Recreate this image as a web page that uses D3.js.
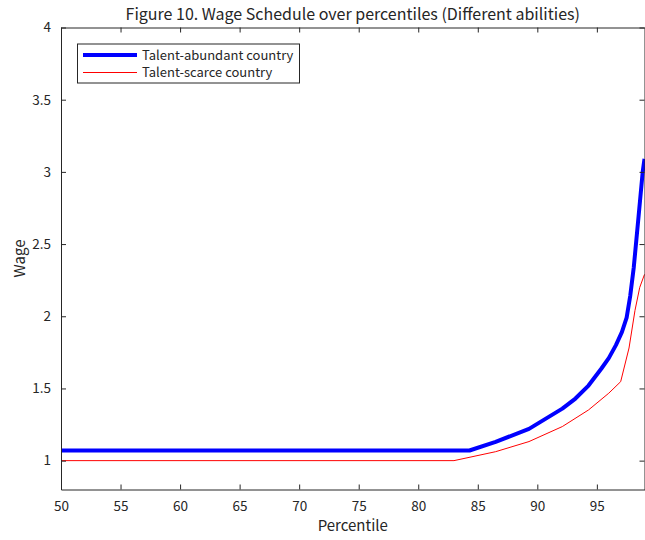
<!DOCTYPE html>
<html><head><meta charset="utf-8">
<script src="https://cdn.jsdelivr.net/npm/d3@7"></script>
<style>body{margin:0;background:#fff}svg{display:block}text{font-family:"Noto Sans CJK JP","Noto Sans",sans-serif;fill:#262626}</style>
</head><body>
<script>
const seriesNames = ["Talent-abundant country", "Talent-scarce country"];
const abundantX = [50, 84.3, 86.5, 89.3, 92.1, 93.2, 94.3, 95.4, 96.0, 96.6, 97.1, 97.5, 97.8, 98.1, 98.5, 98.85, 99];
const abundantY = [1.07, 1.07, 1.13, 1.22, 1.36, 1.43, 1.52, 1.64, 1.71, 1.80, 1.89, 1.99, 2.14, 2.34, 2.69, 3.0, 3.09];
const scarceX = [50, 83.0, 86.5, 89.3, 92.1, 94.3, 96.0, 97.0, 97.7, 98.2, 98.6, 99];
const scarceY = [1.0, 1.0, 1.062, 1.132, 1.236, 1.351, 1.467, 1.547, 1.78, 2.04, 2.20, 2.29];
const xTicks = [50, 55, 60, 65, 70, 75, 80, 85, 90, 95];
const yTicks = [1, 1.5, 2, 2.5, 3, 3.5, 4];
const colors = ["#0000ff", "#ff0000"];

const W = 645, H = 540;
const svg = d3.select("body").append("svg").attr("width", W).attr("height", H);
const mLeft = 61, mRight = 644.5, mTop = 27.5, mBottom = 489.5;
const x = d3.scaleLinear().domain([50, 99]).range([mLeft, mRight]);
const y = d3.scaleLinear().domain([0.8, 4]).range([mBottom, mTop]);
const axisColor = "#262626";

// lines
const line = d3.line().x(d => x(d[0])).y(d => y(d[1]));
svg.append("clipPath").attr("id", "c").append("rect")
  .attr("x", mLeft).attr("y", mTop).attr("width", mRight - mLeft + 2).attr("height", mBottom - mTop);
const g = svg.append("g").attr("clip-path", "url(#c)");
g.append("path").datum(scarceX.map((v, i) => [v, scarceY[i]]))
  .attr("d", line).attr("fill", "none").attr("stroke", colors[1]).attr("stroke-width", 1);
g.append("path").datum(abundantX.map((v, i) => [v, abundantY[i]]))
  .attr("d", line).attr("fill", "none").attr("stroke", colors[0]).attr("stroke-width", 4)
  .attr("stroke-linejoin", "round");

// axes
function styleAxis(sel) {
  sel.selectAll("path.domain").attr("stroke", axisColor);
  sel.selectAll(".tick line").attr("stroke", axisColor);
  sel.selectAll(".tick text").attr("fill", axisColor).style("font-size", "13.5px")
    .style("font-family", '"Noto Sans CJK JP","Noto Sans",sans-serif');
}
const xb = svg.append("g").attr("transform", `translate(0,${mBottom})`)
  .call(d3.axisBottom(x).tickValues(xTicks).tickSizeInner(-5).tickSizeOuter(0).tickPadding(12).tickFormat(d3.format("d")));
styleAxis(xb);
const xt = svg.append("g").attr("transform", `translate(0,${mTop})`)
  .call(d3.axisTop(x).tickValues(xTicks).tickSizeInner(-5).tickSizeOuter(0).tickFormat(""));
styleAxis(xt);
const yl = svg.append("g").attr("transform", `translate(${mLeft},0)`)
  .call(d3.axisLeft(y).tickValues(yTicks).tickSizeInner(-5).tickSizeOuter(0).tickPadding(10).tickFormat(d => String(d)));
styleAxis(yl);
const yr = svg.append("g").attr("transform", `translate(${mRight},0)`)
  .call(d3.axisRight(y).tickValues(yTicks).tickSizeInner(-5).tickSizeOuter(0).tickFormat(""));
styleAxis(yr);

// title and labels
svg.append("text").attr("x", (mLeft + mRight) / 2).attr("y", 20).attr("text-anchor", "middle")
  .style("font-size", "16px").text("Figure 10. Wage Schedule over percentiles (Different abilities)");
svg.append("text").attr("x", (mLeft + mRight) / 2).attr("y", 531).attr("text-anchor", "middle")
  .style("font-size", "15px").text("Percentile");
svg.append("text").attr("transform", `translate(25,${(mTop + mBottom) / 2}) rotate(-90)`)
  .attr("text-anchor", "middle").style("font-size", "15px").text("Wage");

// legend
const lg = svg.append("g");
lg.append("rect").attr("x", 77.5).attr("y", 44).attr("width", 222).attr("height", 39)
  .attr("fill", "#fff").attr("stroke", axisColor).attr("stroke-width", 1);
seriesNames.forEach((n, i) => {
  const yy = 55 + i * 17.5;
  lg.append("line").attr("x1", 83).attr("x2", 137).attr("y1", yy).attr("y2", yy)
    .attr("stroke", colors[i]).attr("stroke-width", i === 0 ? 4 : 1);
  lg.append("text").attr("x", 142).attr("y", yy + 4.5).style("font-size", "13px").text(n);
});
</script>
</body></html>
